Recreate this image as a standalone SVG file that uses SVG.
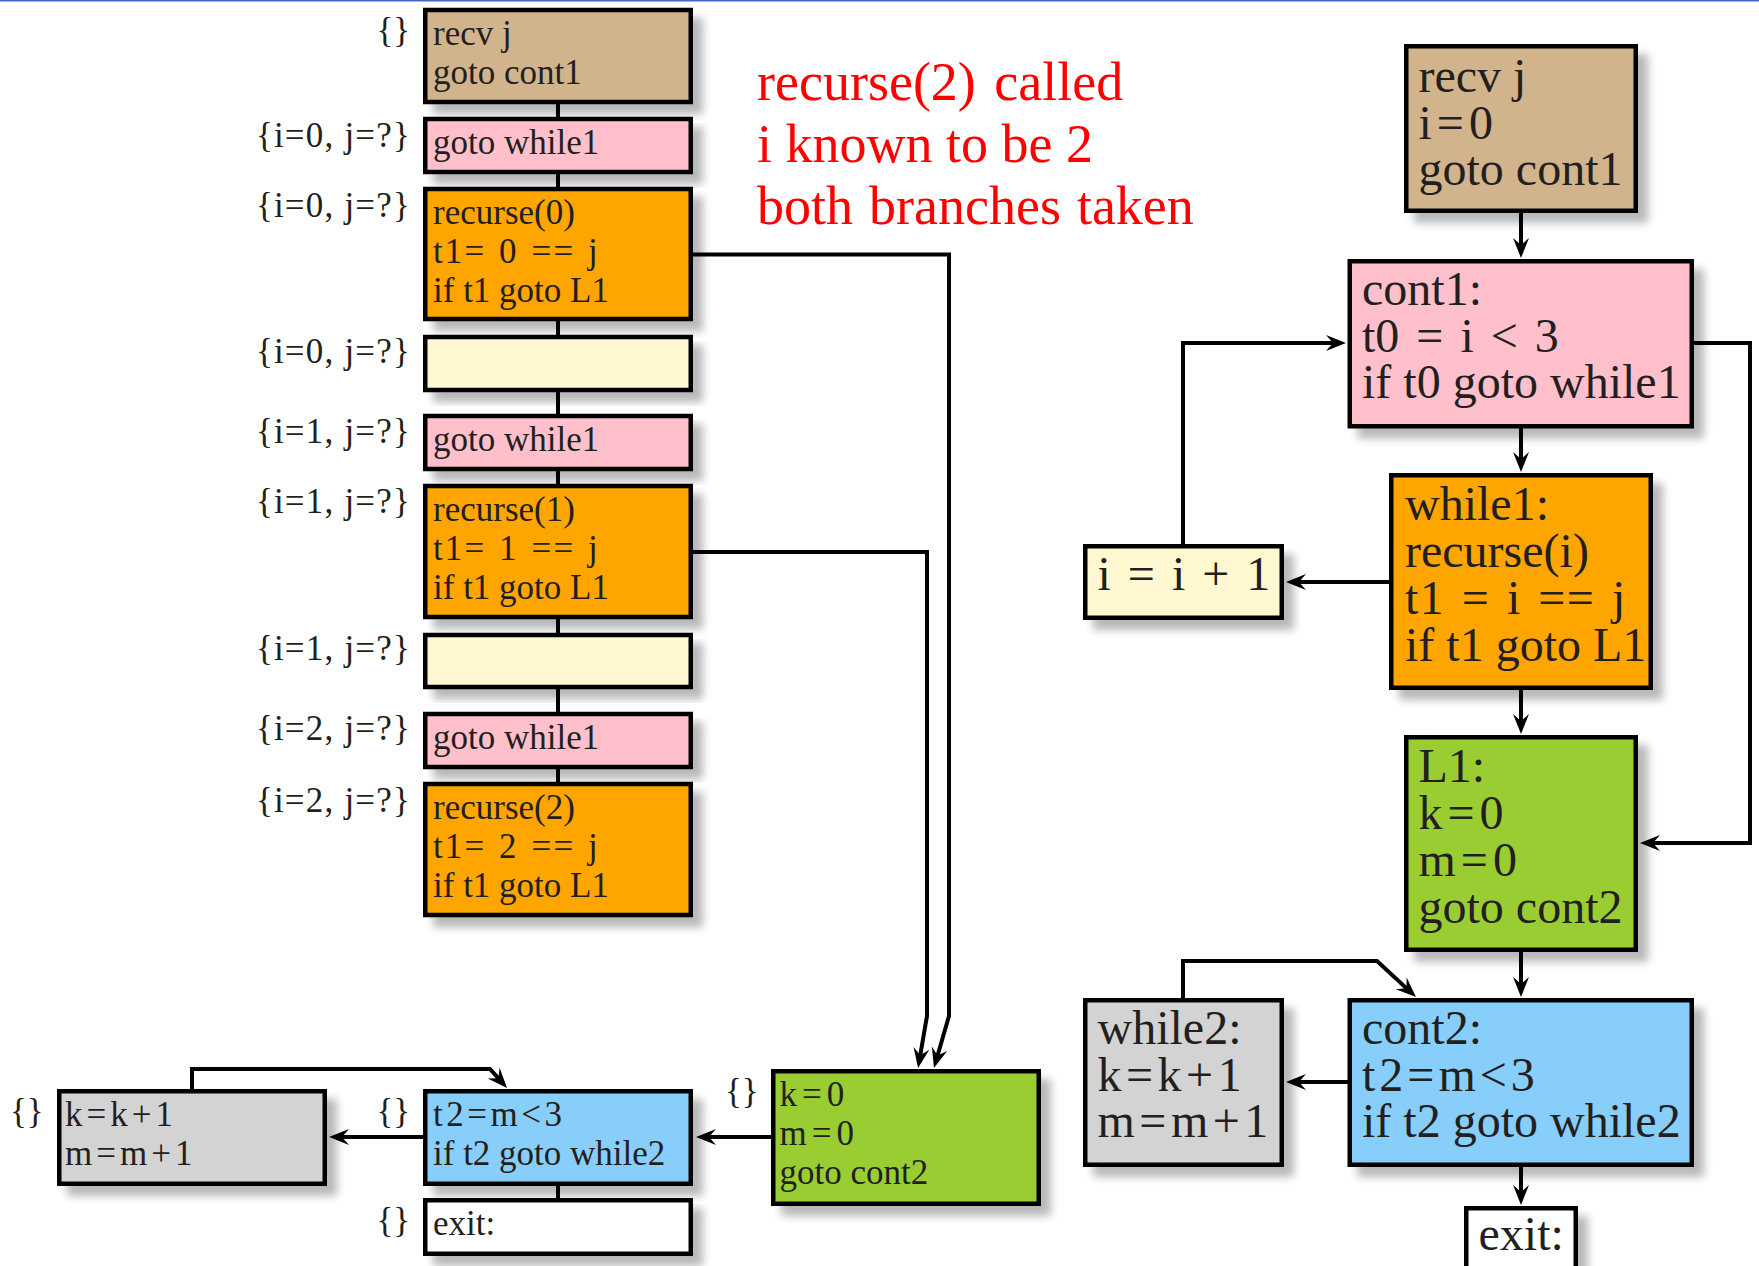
<svg xmlns="http://www.w3.org/2000/svg" width="1759" height="1266" viewBox="0 0 1759 1266">
  <style>
    .box { stroke: #000; stroke-width: 4.5; filter: url(#shadow); }
    .tan { fill: #D2B48C; }
    .pink { fill: #FFC0CB; }
    .orange { fill: #FFA500; }
    .yellow { fill: #FFF8D0; }
    .green { fill: #9ACD32; }
    .blue { fill: #87CEFA; }
    .gray { fill: #D3D3D3; }
    .white { fill: #FFFFFF; }
    text { font-family: "Liberation Serif", "Times New Roman", serif; fill: #231F20; }
    .s { font-size: 35px; }
    .l { font-size: 48px; }
    .lbl { font-size: 35px; text-anchor: end; }
    .fact { letter-spacing: 1.2px; }
    .note { font-size: 54px; fill: #FF0000; }
    /* math-style spacing around operators */
    .eq2 { word-spacing: 2px; letter-spacing: 2.1px; }
    .op4 { letter-spacing: 4px; }
    .op35 { letter-spacing: 3.5px; }
    .op45 { letter-spacing: 4.5px; }
    .op5 { letter-spacing: 5px; }
    .ws5 { word-spacing: 5px; }
    .ws5e { word-spacing: 3.5px; letter-spacing: 1.3px; }
    .wire { fill: none; stroke: #000; stroke-width: 4; stroke-linejoin: miter; }
    .arr { marker-end: url(#head); }
  </style>
  <defs>
    <filter id="shadow" x="-10%" y="-10%" width="130%" height="140%">
      <feGaussianBlur in="SourceAlpha" stdDeviation="4"/>
      <feOffset dx="10" dy="10"/>
      <feComponentTransfer><feFuncA type="linear" slope="0.28"/></feComponentTransfer>
      <feMerge><feMergeNode/><feMergeNode in="SourceGraphic"/></feMerge>
    </filter>
    <marker id="head" viewBox="-21 -9 22 18" markerWidth="22" markerHeight="18" refX="-8" refY="0" orient="auto" markerUnits="userSpaceOnUse">
      <path d="M0,0 L-20,-8 L-13,0 L-20,8 Z" fill="#000"/>
    </marker>
  </defs>

  <rect x="0" y="0" width="1759" height="1.5" fill="#4A64C8"/>

  <!-- left column: unrolled blocks with their facts -->
  <g id="l-recv">
    <rect class="box tan" x="425.25" y="10" width="265.5" height="92"/>
    <text class="s" x="433" y="45">recv j</text>
    <text class="s" x="433" y="84">goto cont1</text>
    <text class="lbl" x="410" y="42">{}</text>
  </g>
  <g id="l-goto0">
    <rect class="box pink" x="425.25" y="119" width="265.5" height="53"/>
    <text class="s" x="433" y="154">goto while1</text>
    <text class="lbl fact" x="411" y="147">{i=0, j=?}</text>
  </g>
  <g id="l-rec0">
    <rect class="box orange" x="425.25" y="189" width="265.5" height="130"/>
    <text class="s" x="433" y="224">recurse(0)</text>
    <text class="s eq2" x="433" y="263">t1= 0 == j</text>
    <text class="s" x="433" y="302">if t1 goto L1</text>
    <text class="lbl fact" x="411" y="217">{i=0, j=?}</text>
  </g>
  <g id="l-inc0">
    <rect class="box yellow" x="425.25" y="337" width="265.5" height="53"/>
    <text class="lbl fact" x="411" y="363">{i=0, j=?}</text>
  </g>
  <g id="l-goto1">
    <rect class="box pink" x="425.25" y="416" width="265.5" height="53"/>
    <text class="s" x="433" y="451">goto while1</text>
    <text class="lbl fact" x="411" y="443">{i=1, j=?}</text>
  </g>
  <g id="l-rec1">
    <rect class="box orange" x="425.25" y="486" width="265.5" height="131"/>
    <text class="s" x="433" y="521">recurse(1)</text>
    <text class="s eq2" x="433" y="560">t1= 1 == j</text>
    <text class="s" x="433" y="599">if t1 goto L1</text>
    <text class="lbl fact" x="411" y="513">{i=1, j=?}</text>
  </g>
  <g id="l-inc1">
    <rect class="box yellow" x="425.25" y="635" width="265.5" height="52"/>
    <text class="lbl fact" x="411" y="660">{i=1, j=?}</text>
  </g>
  <g id="l-goto2">
    <rect class="box pink" x="425.25" y="714" width="265.5" height="53"/>
    <text class="s" x="433" y="749">goto while1</text>
    <text class="lbl fact" x="411" y="740">{i=2, j=?}</text>
  </g>
  <g id="l-rec2">
    <rect class="box orange" x="425.25" y="784" width="265.5" height="131"/>
    <text class="s" x="433" y="819">recurse(2)</text>
    <text class="s eq2" x="433" y="858">t1= 2 == j</text>
    <text class="s" x="433" y="897">if t1 goto L1</text>
    <text class="lbl fact" x="411" y="812">{i=2, j=?}</text>
  </g>
  <g id="l-L1">
    <rect class="box green" x="773.25" y="1071.25" width="265.5" height="132.5"/>
    <text class="s op5" x="779.5" y="1106">k=0</text>
    <text class="s op5" x="779.5" y="1145">m=0</text>
    <text class="s" x="779.5" y="1184">goto cont2</text>
    <text class="lbl" x="758.5" y="1103">{}</text>
  </g>
  <g id="l-cont2">
    <rect class="box blue" x="425.25" y="1091.25" width="265.5" height="92.5"/>
    <text class="s op35" x="433" y="1126">t2=m&lt;3</text>
    <text class="s" x="433" y="1165">if t2 goto while2</text>
    <text class="lbl" x="410" y="1123">{}</text>
  </g>
  <g id="l-while2">
    <rect class="box gray" x="59.25" y="1091.25" width="265.5" height="92.5"/>
    <text class="s op4" x="65" y="1126">k=k+1</text>
    <text class="s op4" x="65" y="1165">m=m+1</text>
    <text class="lbl" x="43.5" y="1123">{}</text>
  </g>
  <g id="l-exit">
    <rect class="box white" x="425.25" y="1200.25" width="265.5" height="53.5"/>
    <text class="s" x="433" y="1235">exit:</text>
    <text class="lbl" x="410" y="1232">{}</text>
  </g>

  <!-- right column: original control-flow graph -->
  <g id="r-recv">
    <rect class="box tan" x="1406.25" y="46.25" width="229.5" height="164.5"/>
    <text class="l" x="1418.5" y="92">recv j</text>
    <text class="l op5" x="1418.5" y="138.5">i=0</text>
    <text class="l" x="1418.5" y="185">goto cont1</text>
  </g>
  <g id="r-cont1">
    <rect class="box pink" x="1349.75" y="261.25" width="342" height="165"/>
    <text class="l" x="1362" y="305">cont1:</text>
    <text class="l ws5" x="1362" y="351.5">t0 = i &lt; 3</text>
    <text class="l" x="1362" y="398">if t0 goto while1</text>
  </g>
  <g id="r-while1">
    <rect class="box orange" x="1391.25" y="475.25" width="259.5" height="212.5"/>
    <text class="l" x="1405" y="520">while1:</text>
    <text class="l" x="1405" y="567">recurse(i)</text>
    <text class="l ws5e" x="1405" y="614">t1 = i == j</text>
    <text class="l" x="1405" y="660.5">if t1 goto L1</text>
  </g>
  <g id="r-inc">
    <rect class="box yellow" x="1085.25" y="546.25" width="196.5" height="71.5"/>
    <text class="l ws5" x="1097.5" y="590">i = i + 1</text>
  </g>
  <g id="r-L1">
    <rect class="box green" x="1406.25" y="737.25" width="229.5" height="212.5"/>
    <text class="l" x="1418.5" y="781.5">L1:</text>
    <text class="l op5" x="1418.5" y="829">k=0</text>
    <text class="l op5" x="1418.5" y="876">m=0</text>
    <text class="l" x="1418.5" y="922.5">goto cont2</text>
  </g>
  <g id="r-cont2">
    <rect class="box blue" x="1349.75" y="1000.25" width="342" height="164.5"/>
    <text class="l" x="1362" y="1043.5">cont2:</text>
    <text class="l op4" x="1362" y="1090.5">t2=m&lt;3</text>
    <text class="l" x="1362" y="1136.5">if t2 goto while2</text>
  </g>
  <g id="r-while2">
    <rect class="box gray" x="1085.25" y="1000.25" width="196.5" height="164.5"/>
    <text class="l" x="1097.5" y="1043.5">while2:</text>
    <text class="l op45" x="1097.5" y="1090.5">k=k+1</text>
    <text class="l op45" x="1097.5" y="1136.5">m=m+1</text>
  </g>
  <g id="r-exit">
    <rect class="box white" x="1466.25" y="1208.25" width="109.5" height="75"/>
    <text class="l" x="1478.5" y="1250">exit:</text>
  </g>

  <g id="note">
    <text class="note" x="757" y="100" word-spacing="5">recurse(2) called</text>
    <text class="note" x="757" y="162">i known to be 2</text>
    <text class="note" x="757" y="224" word-spacing="2.5">both branches taken</text>
  </g>

  <g id="connectors">
    <!-- fall-through links in the unrolled column -->
    <path class="wire" d="M558,102 V119 M558,172 V189 M558,319 V337 M558,390 V416 M558,469 V486 M558,617 V635 M558,687 V714 M558,767 V784 M558,1184 V1200"/>
    <!-- branches to L1 -->
    <path class="wire arr" d="M691,552 H927 V1016 L919.4,1060.1"/>
    <path class="wire arr" d="M691,254.5 H949 V1016 L936.2,1060.3"/>
    <path class="wire arr" d="M773,1137 H704"/>
    <path class="wire arr" d="M425,1137 H337"/>
    <path class="wire arr" d="M192,1091 V1069 H490 L501.7,1082"/>
    <!-- original graph edges -->
    <path class="wire arr" d="M1521,211 V250"/>
    <path class="wire arr" d="M1521,426 V464"/>
    <path class="wire arr" d="M1391,582 H1294"/>
    <path class="wire arr" d="M1183,546 V343 H1338"/>
    <path class="wire arr" d="M1692,343 H1750 V843 H1648"/>
    <path class="wire arr" d="M1521,688 V726"/>
    <path class="wire arr" d="M1521,950 V989"/>
    <path class="wire arr" d="M1349,1082 H1294"/>
    <path class="wire arr" d="M1183,1000 V961 H1377 L1410.1,991.6"/>
    <path class="wire arr" d="M1521,1165 V1197"/>
  </g>
</svg>
